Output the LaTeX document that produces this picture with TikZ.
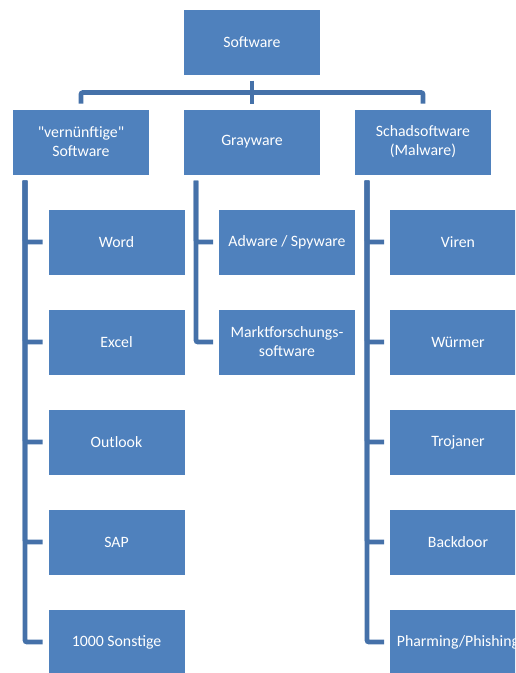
\documentclass[tikz,border=0pt]{standalone}
\usepackage{fontspec}
\setmainfont{Carlito}[Ligatures=TeXOff]
\usetikzlibrary{calc}
\definecolor{boxblue}{HTML}{4F81BD}
\definecolor{lineblue}{HTML}{4571A9}
\tikzset{
  box/.style={fill=boxblue, text=white, minimum width=136pt, minimum height=65pt,
    inner sep=0pt, outer sep=6pt, align=center, font=\fontsize{15.8}{19}\selectfont},
  conn/.style={draw=lineblue, line width=4.8pt, rounded corners=2pt}
}
\begin{document}
\begin{tikzpicture}[x=1pt,y=1pt]
        \useasboundingbox (0,0) rectangle (515,-673);
        \clip (0,0) rectangle (515,-673);
        \node[box] (sw) at (252,-42) {Software};
        \node[box] (vs) at (81,-142) {"vernünftige"\\Software};
        \node[box] (gw) at (252,-142) {Grayware};
        \node[box] (mw) at (423,-142) {Schadsoftware\\(Malware)};
        \node[box] (word) at (116.5,-242) {Word};
        \node[box] (excel) at (116.5,-342) {Excel};
        \node[box] (outlook) at (116.5,-442) {Outlook};
        \node[box] (sap) at (116.5,-542) {SAP};
        \node[box] (misc) at (116.5,-642) {1000 Sonstige};
        \node[box] (adware) at (287,-242) {Adware / Spyware};
        \node[box] (market) at (287,-342) {Marktforschungs-\\software};
        \node[box] (viren) at (458,-242) {Viren};
        \node[box] (wuermer) at (458,-342) {Würmer};
        \node[box] (trojan) at (458,-442) {Trojaner};
        \node[box] (backdoor) at (458,-542) {Backdoor};
        \node[box] (phish) at (458,-642) {Pharming/Phishing};
        % top level
        \coordinate (bar) at ($(sw.south)+(0,-12)$);
        \draw[conn] (sw.south) -- (bar);
        \draw[conn] (bar) -| (vs.north);
        \draw[conn] (bar) -| (mw.north);
        \draw[conn] (bar) -- (gw.north);
        % columns
        \coordinate (vsl) at ([xshift=18pt]vs.south west);
        \coordinate (gwl) at ([xshift=18pt]gw.south west);
        \coordinate (mwl) at ([xshift=18pt]mw.south west);
        \draw[conn] (vsl) |- (word.west);
        \draw[conn] (vsl) |- (excel.west);
        \draw[conn] (vsl) |- (outlook.west);
        \draw[conn] (vsl) |- (sap.west);
        \draw[conn] (vsl) |- (misc.west);
        \draw[conn] (gwl) |- (adware.west);
        \draw[conn] (gwl) |- (market.west);
        \draw[conn] (mwl) |- (viren.west);
        \draw[conn] (mwl) |- (wuermer.west);
        \draw[conn] (mwl) |- (trojan.west);
        \draw[conn] (mwl) |- (backdoor.west);
        \draw[conn] (mwl) |- (phish.west);
\end{tikzpicture}
\end{document}
